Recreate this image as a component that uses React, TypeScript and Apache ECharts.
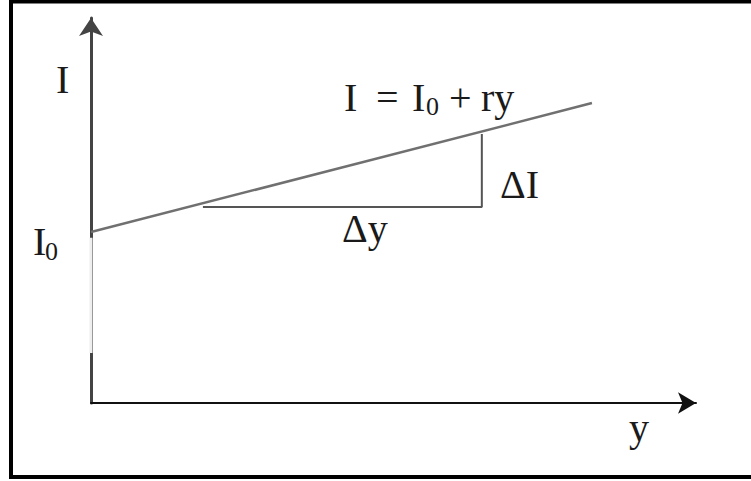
import React, { useEffect, useRef } from "react";
import * as echarts from "echarts";

// Data (axis units 0..100)
const lineX = [0, 82.8];
const lineY = [44.4, 77.9];
const triX = [18.5, 64.6, 64.6];
const triY = [50.9, 50.9, 69.9];
const gapX = [0, 0];
const gapY = [42.9, 13.0];

const FONT = "Liberation Serif";

export default function App() {
  const ref = useRef<HTMLDivElement>(null);
  useEffect(() => {
    if (!ref.current) return;
    const chart = echarts.init(ref.current, undefined, { renderer: "svg" });
    const txt = (x: number, y: number, text: string, size: number) => ({
      type: "text",
      x,
      y,
      z: 10,
      style: {
        text,
        fontFamily: FONT,
        fontSize: size,
        fill: "#1a1a1a",
        verticalAlign: "middle",
        align: "left",
      },
    });
    chart.setOption({
      animation: false,
      backgroundColor: "#ffffff",
      grid: { left: 91, right: 55, top: 18, bottom: 78 },
      xAxis: {
        type: "value",
        min: 0,
        max: 100,
        axisLine: {
          show: true,
          symbol: ["none", "arrow"],
          symbolSize: [16, 18],
          lineStyle: { color: "#111", width: 2 },
        },
        axisTick: { show: false },
        axisLabel: { show: false },
        splitLine: { show: false },
      },
      yAxis: {
        type: "value",
        min: 0,
        max: 100,
        axisLine: {
          show: true,
          symbol: ["none", "arrow"],
          symbolSize: [18, 18],
          lineStyle: { color: "#444", width: 3 },
        },
        axisTick: { show: false },
        axisLabel: { show: false },
        splitLine: { show: false },
      },
      series: [
        {
          type: "line",
          data: gapX.map((x, i) => [x, gapY[i]]),
          symbol: "none",
          lineStyle: { color: "#eeeeee", width: 3 },
          z: 3,
        },
        {
          type: "line",
          data: lineX.map((x, i) => [x, lineY[i]]),
          symbol: "none",
          lineStyle: { color: "#707070", width: 2.5 },
          z: 4,
        },
        {
          type: "line",
          data: triX.map((x, i) => [x, triY[i]]),
          symbol: "none",
          lineStyle: { color: "#555555", width: 2 },
          z: 4,
        },
      ],
      graphic: [
        {
          type: "rect",
          shape: { x: 11, y: 1.5, width: 800, height: 475.5 },
          style: { fill: "none", stroke: "#000", lineWidth: 4 },
          z: 10,
        },
        txt(56, 79, "I", 40),
        txt(33, 241, "I", 40),
        txt(45, 251, "0", 26),
        txt(344, 97, "I", 40),
        txt(376, 97, "=", 40),
        txt(412, 97, "I", 40),
        txt(426, 106, "0", 26),
        txt(449, 97, "+", 40),
        txt(481, 97, "ry", 40),
        txt(500, 184, "ΔI", 40),
        txt(342, 228, "Δy", 40),
        txt(629, 427, "y", 40),
      ],
    });
    return () => chart.dispose();
  }, []);
  return (
    <div
      ref={ref}
      style={{ position: "fixed", left: 0, top: 0, width: 751, height: 481 }}
    />
  );
}
